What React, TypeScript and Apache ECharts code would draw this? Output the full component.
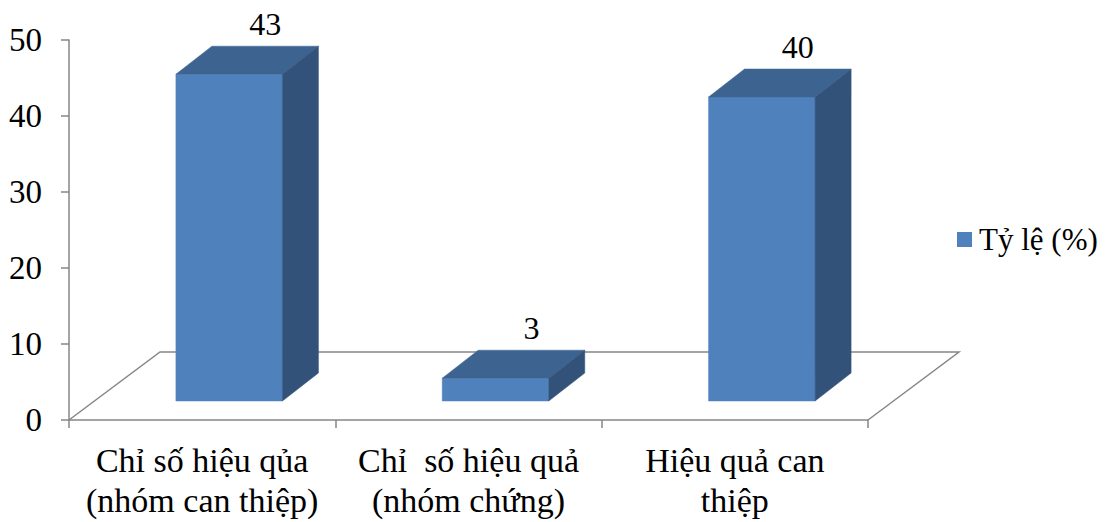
import { useEffect, useRef } from "react";
import * as echarts from "echarts";

// Categories (x axis), values (%), legend name and y-axis range
const categories = [
  "Chỉ số hiệu qủa\n(nhóm can thiệp)",
  "Chỉ  số hiệu quả\n(nhóm chứng)",
  "Hiệu quả can\nthiệp",
];
const rates = [43, 3, 40];
const seriesName = "Tỷ lệ (%)";
const yMin = 0;
const yMax = 50;
const yInterval = 10;

const FONT = '"Liberation Serif", "Times New Roman", "DejaVu Serif", serif';
const FRONT = "#4F81BD";
const TOP = "#3D6491";
const SIDE = "#33527A";
const AXIS = "#868686";

// Oblique projection: depth vector of the floor, and where each bar slab sits along it
const FLOOR_DEPTH = [91, -68];
const BAR_OFFSET = [27, -19];
const BAR_DEPTH = [36, -28];
const BAR_RATIO = 0.4;

export default function App() {
  const ref = useRef<HTMLDivElement>(null);

  useEffect(() => {
    document.body.style.margin = "0";
    const chart = echarts.init(ref.current!, null, { renderer: "svg" });

    const floorItem = (params: any, api: any) => {
      const n = categories.length;
      const cw = api.size([1, 0])[0];
      const a = api.coord([0, yMin]);
      const b = api.coord([n - 1, yMin]);
      const left = a[0] - cw / 2;
      const right = b[0] + cw / 2;
      const y0 = a[1];
      const [dx, dy] = FLOOR_DEPTH;
      return {
        type: "polyline",
        shape: {
          points: [
            [left, y0],
            [left + dx, y0 + dy],
            [right + dx, y0 + dy],
            [right, y0],
          ],
        },
        style: { stroke: AXIS, lineWidth: 1.5, fill: "none" },
      };
    };

    const barItem = (params: any, api: any) => {
      const idx = api.value(0);
      const v = api.value(1);
      const base = api.coord([idx, yMin]);
      const top = api.coord([idx, v]);
      const bw = api.size([1, 0])[0] * BAR_RATIO;
      const x0 = base[0] - bw / 2 + BAR_OFFSET[0];
      const x1 = x0 + bw;
      const yb = base[1] + BAR_OFFSET[1];
      const yt = top[1] + BAR_OFFSET[1];
      const [dx, dy] = BAR_DEPTH;
      const face = (pts: number[][], c: string) => ({
        type: "polygon",
        shape: { points: pts },
        style: { fill: c, stroke: c, lineWidth: 0.5 },
      });
      return {
        type: "group",
        children: [
          face([[x0, yb], [x1, yb], [x1, yt], [x0, yt]], FRONT),
          face([[x0, yt], [x1, yt], [x1 + dx, yt + dy], [x0 + dx, yt + dy]], TOP),
          face([[x1, yb], [x1 + dx, yb + dy], [x1 + dx, yt + dy], [x1, yt]], SIDE),
          {
            type: "text",
            x: (x0 + x1) / 2 + dx,
            y: yt + dy - 6,
            style: {
              text: String(v),
              fontFamily: FONT,
              fontSize: 32,
              fill: "#000",
              align: "center",
              verticalAlign: "bottom",
            },
          },
        ],
      };
    };

    chart.setOption({
      animation: false,
      backgroundColor: "#fff",
      grid: { left: 69, right: 237, top: 40, bottom: 102, containLabel: false },
      legend: {
        data: [{ name: seriesName, icon: "rect" }],
        left: 952,
        top: 219,
        itemWidth: 15,
        itemHeight: 15,
        textStyle: { fontFamily: FONT, fontSize: 31, color: "#000", padding: [0, 0, 0, 2] },
      },
      xAxis: {
        type: "category",
        data: categories,
        axisLine: { show: true, lineStyle: { color: AXIS, width: 1.5 } },
        axisTick: { show: true, length: 8, lineStyle: { color: AXIS, width: 1.5 } },
        axisLabel: {
          fontFamily: FONT,
          fontSize: 34,
          color: "#000",
          lineHeight: 40,
          margin: 20,
          interval: 0,
        },
        splitLine: { show: false },
      },
      yAxis: {
        type: "value",
        min: yMin,
        max: yMax,
        interval: yInterval,
        axisLine: { show: true, lineStyle: { color: AXIS, width: 1.5 } },
        axisTick: { show: true, length: 8, lineStyle: { color: AXIS, width: 1.5 } },
        axisLabel: { fontFamily: FONT, fontSize: 33, color: "#000", margin: 27 },
        splitLine: { show: false },
      },
      series: [
        {
          name: "floor",
          type: "custom",
          renderItem: floorItem,
          data: [[0, yMin]],
          silent: true,
          clip: false,
          z: 1,
        },
        {
          name: seriesName,
          type: "custom",
          renderItem: barItem,
          data: rates.map((v, i) => [i, v]),
          itemStyle: { color: FRONT },
          encode: { x: 0, y: 1 },
          clip: false,
          z: 2,
        },
      ],
    });

    return () => chart.dispose();
  }, []);

  return <div ref={ref} style={{ width: 1105, height: 522 }} />;
}
